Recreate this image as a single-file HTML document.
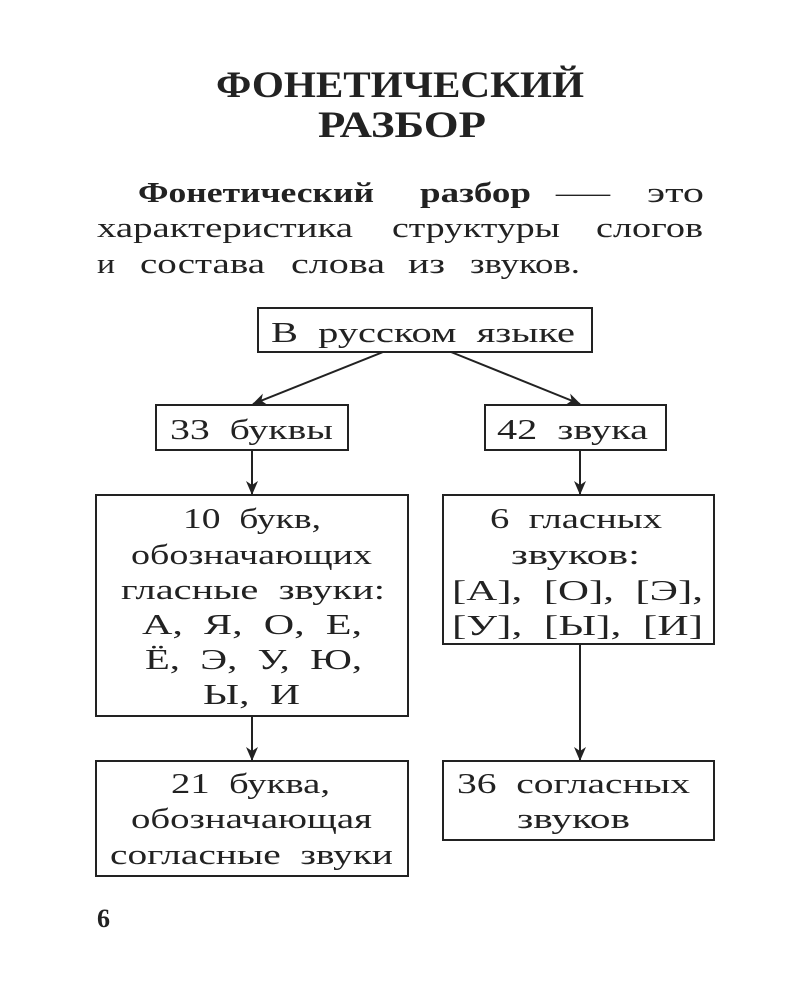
<!DOCTYPE html>
<html><head><meta charset="utf-8"><style>
html,body{margin:0;padding:0;background:#fff;}
svg{display:block;}
text{font-family:"Liberation Serif",serif;fill:#222;white-space:pre;}
</style></head><body>
<svg width="800" height="1000" viewBox="0 0 800 1000" xmlns="http://www.w3.org/2000/svg">
<defs><marker id="a" markerWidth="14" markerHeight="14" refX="13" refY="7" orient="auto" markerUnits="userSpaceOnUse"><path d="M0,1 L14,7 L0,13 L4,7 Z" fill="#222"/></marker></defs>
<g font-weight="bold" font-size="37">
<text x="216" y="97" textLength="368" lengthAdjust="spacingAndGlyphs">ФОНЕТИЧЕСКИЙ</text>
<text x="318" y="137" textLength="168" lengthAdjust="spacingAndGlyphs">РАЗБОР</text>
</g>
<g font-size="28">
<text x="138" y="202" font-weight="bold" textLength="236" lengthAdjust="spacingAndGlyphs">Фонетический</text>
<text x="420" y="202" font-weight="bold" textLength="111" lengthAdjust="spacingAndGlyphs">разбор</text>
<text x="556" y="202" textLength="54" lengthAdjust="spacingAndGlyphs">—</text>
<text x="647" y="202" textLength="57" lengthAdjust="spacingAndGlyphs">это</text>
<text x="97" y="237" textLength="256" lengthAdjust="spacingAndGlyphs">характеристика</text>
<text x="392" y="237" textLength="168" lengthAdjust="spacingAndGlyphs">структуры</text>
<text x="596" y="237" textLength="107" lengthAdjust="spacingAndGlyphs">слогов</text>
<text x="97" y="273" textLength="18" lengthAdjust="spacingAndGlyphs">и</text>
<text x="140" y="273" textLength="125" lengthAdjust="spacingAndGlyphs">состава</text>
<text x="291" y="273" textLength="94" lengthAdjust="spacingAndGlyphs">слова</text>
<text x="408" y="273" textLength="37" lengthAdjust="spacingAndGlyphs">из</text>
<text x="470" y="273" textLength="110" lengthAdjust="spacingAndGlyphs">звуков.</text>
</g>
<g fill="none" stroke="#222" stroke-width="2">
<rect x="258" y="308" width="334" height="44"/>
<rect x="156" y="405" width="192" height="45"/>
<rect x="485" y="405" width="181" height="45"/>
<rect x="96" y="495" width="312" height="221"/>
<rect x="443" y="495" width="271" height="149"/>
<rect x="96" y="761" width="312" height="115"/>
<rect x="443" y="761" width="271" height="79"/>
<line x1="383" y1="352" x2="253" y2="404" marker-end="url(#a)"/>
<line x1="451" y1="352" x2="580" y2="404" marker-end="url(#a)"/>
<line x1="252" y1="450" x2="252" y2="494" marker-end="url(#a)"/>
<line x1="580" y1="450" x2="580" y2="494" marker-end="url(#a)"/>
<line x1="252" y1="716" x2="252" y2="760" marker-end="url(#a)"/>
<line x1="580" y1="644" x2="580" y2="760" marker-end="url(#a)"/>
</g>
<g font-size="28">
<text x="271" y="342" textLength="304" lengthAdjust="spacingAndGlyphs">В  русском  языке</text>
<text x="170" y="439" textLength="163" lengthAdjust="spacingAndGlyphs">33  буквы</text>
<text x="497" y="439" textLength="151" lengthAdjust="spacingAndGlyphs">42  звука</text>
<text x="183" y="528" textLength="138" lengthAdjust="spacingAndGlyphs">10  букв,</text>
<text x="131" y="564" textLength="241" lengthAdjust="spacingAndGlyphs">обозначающих</text>
<text x="121" y="599" textLength="264" lengthAdjust="spacingAndGlyphs">гласные  звуки:</text>
<text x="142" y="634" textLength="220" lengthAdjust="spacingAndGlyphs">А,  Я,  О,  Е,</text>
<text x="145" y="669" textLength="217" lengthAdjust="spacingAndGlyphs">Ё,  Э,  У,  Ю,</text>
<text x="203" y="704" textLength="97" lengthAdjust="spacingAndGlyphs">Ы,  И</text>
<text x="490" y="528" textLength="172" lengthAdjust="spacingAndGlyphs">6  гласных</text>
<text x="511" y="564" textLength="129" lengthAdjust="spacingAndGlyphs">звуков:</text>
<text x="452" y="600" textLength="251" lengthAdjust="spacingAndGlyphs">[А],  [О],  [Э],</text>
<text x="452" y="635" textLength="251" lengthAdjust="spacingAndGlyphs">[У],  [Ы],  [И]</text>
<text x="171" y="793" textLength="159" lengthAdjust="spacingAndGlyphs">21  буква,</text>
<text x="131" y="828" textLength="241" lengthAdjust="spacingAndGlyphs">обозначающая</text>
<text x="110" y="864" textLength="283" lengthAdjust="spacingAndGlyphs">согласные  звуки</text>
<text x="457" y="793" textLength="233" lengthAdjust="spacingAndGlyphs">36  согласных</text>
<text x="517" y="828" textLength="113" lengthAdjust="spacingAndGlyphs">звуков</text>
</g>
<text x="97" y="927" font-size="26" font-weight="bold">6</text>
</svg>
</body></html>
